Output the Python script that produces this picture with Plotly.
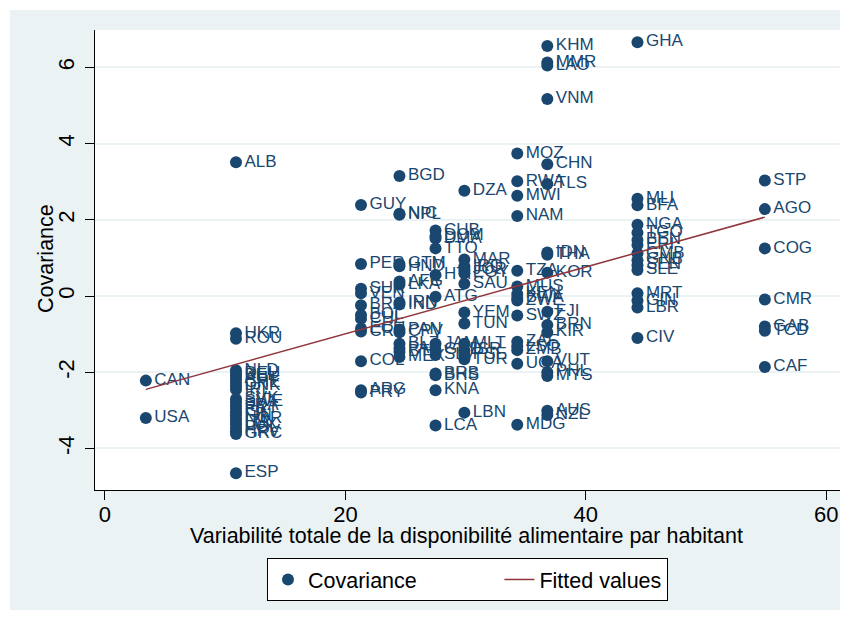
import plotly.graph_objects as go

# country codes, total variability (x) and covariance (y)
codes = [
    "CAN", "USA",
    "ALB", "UKR", "ROU", "NLD", "DEU", "BEL", "AUT", "CHE", "DNK", "IRL",
    "SVK", "SWE", "FRA", "PRT", "ISL", "FIN", "NOR", "ITA", "LUX", "POL",
    "HRV", "GRC", "ESP",
    "GUY", "PER", "SUR", "VEN", "BRA", "BOL", "CHL", "ECU", "CRI", "COL",
    "ARG", "PRY",
    "BGD", "NIC", "NPL", "GTM", "HND", "AFG", "LKA", "IRN", "IND", "PAN",
    "CPV", "BLZ", "PAK", "BTN", "MEX",
    "CUB", "DOM", "DMA", "TTO", "HTI", "ATG", "JAM", "GRD", "SLV", "BRB",
    "BHS", "KNA", "LCA",
    "DZA", "MAR", "IRQ", "JOR", "EGY", "SAU", "YEM", "TUN", "MLT", "ISR",
    "PSE", "TUR", "LBN",
    "MOZ", "RWA", "MWI", "NAM", "TZA", "MUS", "KEN", "BWA", "ZWE", "SWZ",
    "ZAF", "LSO", "ZMB", "UGA", "MDG",
    "KHM", "MMR", "LAO", "VNM", "CHN", "TLS", "IDN", "THA", "KOR", "FJI",
    "BRN", "KIR", "VUT", "PHL", "MYS", "AUS", "NZL",
    "GHA", "MLI", "BFA", "NGA", "TGO", "BEN", "ERI", "GMB", "GNB", "SEN",
    "SLE", "MRT", "GIN", "LBR", "CIV",
    "STP", "AGO", "COG", "CMR", "GAB", "TCD", "CAF",
]

variabilite = (
    [3.4] * 2
    + [10.9] * 23
    + [21.3] * 12
    + [24.5] * 15
    + [27.5] * 13
    + [29.9] * 13
    + [34.3] * 15
    + [36.8] * 17
    + [44.3] * 15
    + [54.9] * 7
)

covariance = [
    -2.22, -3.20,
    3.51, -0.98, -1.12, -1.95, -2.03, -2.10, -2.18, -2.27, -2.36, -2.45,
    -2.70, -2.78, -2.87, -2.96, -3.05, -3.13, -3.22, -3.30, -3.38, -3.46,
    -3.55, -3.62, -4.65,
    2.39, 0.84, 0.19, 0.07, -0.24, -0.50, -0.60, -0.85, -0.93, -1.71,
    -2.47, -2.53,
    3.15, 2.16, 2.13, 0.84, 0.78, 0.38, 0.30, -0.17, -0.22, -0.88,
    -0.95, -1.25, -1.38, -1.47, -1.60,
    1.72, 1.57, 1.51, 1.25, 0.55, -0.02, -1.25, -1.42, -1.55, -2.03,
    -2.08, -2.47, -3.40,
    2.76, 0.96, 0.78, 0.68, 0.60, 0.32, -0.43, -0.72, -1.25, -1.42,
    -1.55, -1.66, -3.06,
    3.74, 3.01, 2.63, 2.10, 0.66, 0.25, 0.05, -0.05, -0.12, -0.51,
    -1.20, -1.32, -1.42, -1.78, -3.38,
    6.56, 6.13, 6.05, 5.17, 3.46, 2.94, 1.14, 1.08, 0.61, -0.41,
    -0.76, -0.95, -1.71, -2.00, -2.10, -3.01, -3.12,
    6.66, 2.55, 2.38, 1.87, 1.66, 1.47, 1.34, 1.12, 0.94, 0.81,
    0.68, 0.07, -0.12, -0.30, -1.10,
    3.03, 2.28, 1.25, -0.09, -0.80, -0.91, -1.86,
]

# fitted values (endpoints of the regression line as drawn)
fit_x = [3.4, 54.9]
fit_y = [-2.45, 2.07]

x_ticks = [0, 20, 40, 60]
y_ticks = [-4, -2, 0, 2, 4, 6]
y_ticktext = ["-4", "-2", "0", "2", "4", "6"]

NAVY = "#1a476f"
MAROON = "#90353b"
GRAPH_BG = "#eaf2f3"
FONT = "Liberation Sans, Arial, sans-serif"

# the page body adds an 8px margin, so the figure is 8px smaller
OFF = 8
W, H = 848 - OFF, 620 - OFF
ML, MR, MT, MB = 95 - OFF, 8, 30 - OFF, 130
PW, PH = W - ML - MR, H - MT - MB


def px_x(px):
    """window pixel -> paper x"""
    return (px - OFF - ML) / PW


def px_y(py):
    """window pixel -> paper y"""
    return (H - MB - (py - OFF)) / PH


fig = go.Figure()

fig.add_trace(go.Scatter(
    x=variabilite, y=covariance, text=codes,
    mode="markers+text", textposition="middle right",
    name="Covariance" + "\u00a0" * 13,
    marker=dict(color=NAVY, size=12),
    textfont=dict(color=NAVY, size=17, family=FONT),
    cliponaxis=False,
))

fig.add_trace(go.Scatter(
    x=fit_x, y=fit_y, mode="lines", name="Fitted values",
    line=dict(color=MAROON, width=1.5),
))

# Stata-like graph region: light bluish frame, white plot region
fig.add_shape(type="rect", xref="paper", yref="paper", layer="below",
              x0=px_x(10), x1=px_x(850), y0=px_y(610), y1=px_y(10),
              fillcolor=GRAPH_BG, line_width=0)
fig.add_shape(type="rect", xref="paper", yref="paper", layer="below",
              x0=0, x1=1, y0=0, y1=1, fillcolor="white", line_width=0)

# axis titles
fig.add_annotation(text="Covariance", xref="paper", yref="paper",
                   x=px_x(46), y=px_y(259), xanchor="center", yanchor="middle",
                   textangle=-90, showarrow=False, font=dict(size=21.5))
fig.add_annotation(text="Variabilité totale de la disponibilité alimentaire par habitant",
                   xref="paper", yref="paper", x=px_x(466), y=px_y(536),
                   xanchor="center", yanchor="middle",
                   showarrow=False, font=dict(size=21.5))

fig.update_layout(
    width=W, height=H,
    margin=dict(l=ML, r=MR, t=MT, b=MB),
    paper_bgcolor="white", plot_bgcolor="white",
    font=dict(family=FONT, color="black", size=22),
    showlegend=True,
    legend=dict(
        orientation="h", x=0.5, xanchor="center",
        y=px_y(558), yanchor="top",
        bgcolor="white", bordercolor="black", borderwidth=1,
        font=dict(size=21.5),
    ),
    xaxis=dict(
        range=[-0.83, 61.15], tickvals=x_ticks,
        ticks="outside", ticklen=9, tickcolor="black",
        showline=True, linecolor="black", linewidth=1,
        showgrid=False, zeroline=False, ticklabelstandoff=-4,
    ),
    yaxis=dict(
        range=[-5.09, 6.98], tickvals=y_ticks, ticktext=y_ticktext,
        tickangle=-90,
        ticks="outside", ticklen=9, tickcolor="black",
        showline=True, linecolor="black", linewidth=1,
        showgrid=True, gridcolor=GRAPH_BG, gridwidth=2,
        zeroline=False, ticklabelstandoff=2,
    ),
)

fig.write_html("out.html")
